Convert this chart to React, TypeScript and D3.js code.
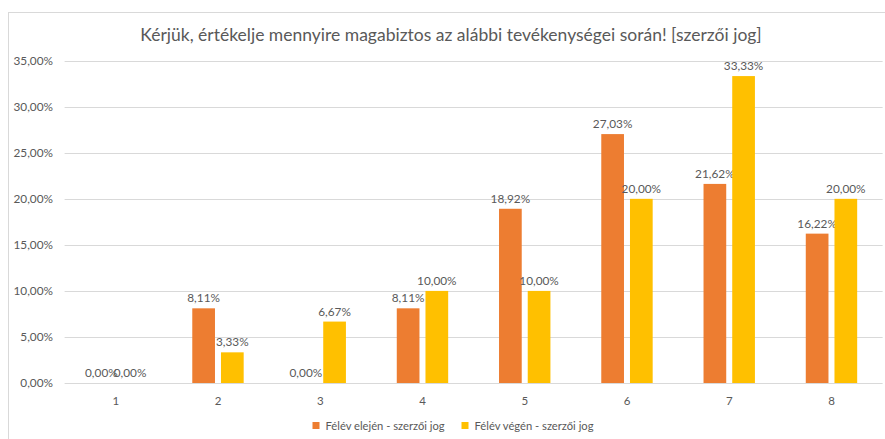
import React from "react";
import * as d3 from "d3";

const categories = ["1", "2", "3", "4", "5", "6", "7", "8"];
const seriesNames = ["Félév elején - szerzői jog", "Félév végén - szerzői jog"];
const startValues = [0, 8.11, 0, 8.11, 18.92, 27.03, 21.62, 16.22];
const endValues = [0, 3.33, 6.67, 10, 10, 20, 33.33, 20];
const yTicks = [0, 5, 10, 15, 20, 25, 30, 35];
const title = "Kérjük, értékelje mennyire magabiztos az alábbi tevékenységei során! [szerzői jog]";

const colors = ["#ED7D31", "#FFC000"];
const W = 885;
const H = 439;
const font = "Lato, 'Open Sans', sans-serif";
const fmt = (v: number) => v.toFixed(2).replace(".", ",") + "%";

export default function App() {
  const x = d3.scaleBand<string>().domain(categories).range([64.6, 882.6]);
  const y = d3.scaleLinear().domain([0, 35]).range([383, 60.7]);
  const barW = 22.7;
  const gap = 6;
  const series = [startValues, endValues];
  return (
    <svg width={W} height={H} style={{ position: "absolute", left: 0, top: 0, background: "#fff" }} fontFamily={font}>
      <rect x={8.5} y={12.5} width={900} height={500} fill="#fff" stroke="#D9D9D9" strokeWidth={1} />
      <text x={451} y={41} textAnchor="middle" fontSize={17.5} fill="#595959">{title}</text>
      {yTicks.map((t) => (
        <g key={t}>
          <line x1={64.6} x2={882.6} y1={Math.round(y(t)) + 0.5} y2={Math.round(y(t)) + 0.5} stroke="#D9D9D9" strokeWidth={1} />
          <text x={53} y={y(t) + 4} textAnchor="end" fontSize={11.8} fill="#595959">{fmt(t)}</text>
        </g>
      ))}
      {categories.map((c) => (
        <text key={c} x={x(c)! + x.bandwidth() / 2} y={405} textAnchor="middle" fontSize={11.5} fill="#595959">{c}</text>
      ))}
      {series.map((vals, si) =>
        categories.map((c, i) => {
          const cx = x(c)! + x.bandwidth() / 2;
          const bx = si === 0 ? cx - gap / 2 - barW : cx + gap / 2;
          const v = vals[i];
          return (
            <g key={si + "-" + c}>
              {v > 0 && <rect x={bx} y={y(v)} width={barW} height={y(0) - y(v)} fill={colors[si]} />}
              <text x={bx + barW / 2} y={y(v) - 6} textAnchor="middle" fontSize={11.8} fill="#595959">{fmt(v)}</text>
            </g>
          );
        })
      )}
      {seriesNames.map((n, i) => {
        const lx = i === 0 ? 312.5 : 461.5;
        return (
          <g key={n}>
            <rect x={lx} y={422} width={7} height={7} fill={colors[i]} />
            <text x={lx + 13} y={429.5} fontSize={11.2} fill="#595959">{n}</text>
          </g>
        );
      })}
    </svg>
  );
}
